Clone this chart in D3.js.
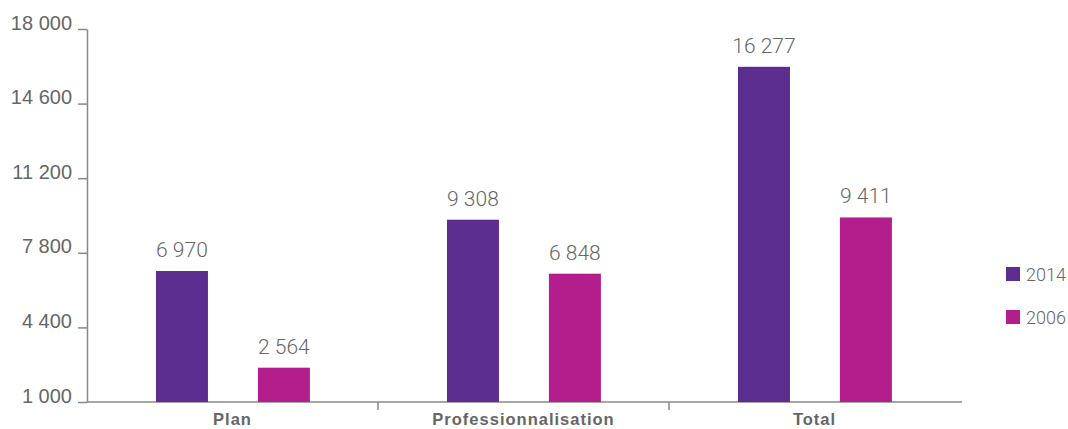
<!DOCTYPE html>
<html><head><meta charset="utf-8">
<script src="https://cdn.jsdelivr.net/npm/d3@7"></script>
<style>
html,body{margin:0;padding:0;background:#fff;}
svg{display:block;font-family:Roboto,"DejaVu Sans",sans-serif;}
</style></head>
<body><svg id="c" width="1068" height="429"></svg>
<script>
const categories = ["Plan", "Professionnalisation", "Total"];
const series = ["2014", "2006"];
const values2014 = [6970, 9308, 16277];
const values2006 = [2564, 6848, 9411];
const yTicks = [1000, 4400, 7800, 11200, 14600, 18000];
const colors = ["#5b2d8e", "#b41e8c"];

(function () {
const svg = d3.select("#c");
const loc = d3.formatLocale({decimal: ",", thousands: " ", grouping: [3], currency: ["", " €"]});
const fmt = loc.format(",d");

const mLeft = 87, mRight = 962, mTop = 29, mBottom = 402;
const x = d3.scaleBand().domain(categories).range([mLeft, mLeft + 873]).padding(0);
const bw = x.bandwidth();
const xs = d3.scaleBand().domain(series).range([bw * 0.237, bw * 0.766]).paddingInner(0.49);
const y = d3.scaleLinear().domain([1000, 18000]).range([mBottom, mTop]);
const color = d3.scaleOrdinal().domain(series).range(colors);

const rows = categories.map((c, i) => ({cat: c, vals: [
  {s: series[0], v: values2014[i]}, {s: series[1], v: values2006[i]}]}));

// y axis
const yAxis = svg.append("g").attr("transform", `translate(${mLeft},0)`)
  .call(d3.axisLeft(y).tickValues(yTicks).tickFormat(fmt).tickSize(9).tickSizeOuter(0));
yAxis.select(".domain").attr("stroke", "#888").attr("stroke-width", 1.5);
yAxis.selectAll(".tick line").attr("stroke", "#888").attr("stroke-width", 1.5);
yAxis.selectAll(".tick text").attr("fill", "#666").attr("font-size", 20).attr("font-weight", 300)
  .attr("x", -15).attr("dy", "0").attr("y", 0);

// x axis
const xAxis = svg.append("g").attr("transform", `translate(0,${mBottom})`)
  .call(d3.axisBottom(x).tickSize(0).tickSizeOuter(0));
xAxis.select(".domain").attr("d", `M${mLeft},0H${mRight}`).attr("stroke", "#888").attr("stroke-width", 1.5);
xAxis.selectAll(".tick text").attr("fill", "#666").attr("font-size", 16.5).attr("font-weight", 700)
  .attr("letter-spacing", 1).attr("y", 23).attr("dy", 0);
xAxis.selectAll(".sep").data(categories.slice(1)).join("line").attr("class", "sep")
  .attr("x1", d => x(d)).attr("x2", d => x(d)).attr("y1", 0).attr("y2", 8)
  .attr("stroke", "#888").attr("stroke-width", 1.5);

// bars
const g = svg.append("g");
const grp = g.selectAll("g.cat").data(rows).join("g").attr("class", "cat")
  .attr("transform", d => `translate(${x(d.cat)},0)`);
grp.selectAll("rect").data(d => d.vals).join("rect")
  .attr("x", d => xs(d.s)).attr("width", xs.bandwidth())
  .attr("y", d => y(d.v)).attr("height", d => y(1000) - y(d.v))
  .attr("fill", d => color(d.s));
grp.selectAll("text").data(d => d.vals).join("text")
  .attr("x", d => xs(d.s) + xs.bandwidth() / 2).attr("y", d => y(d.v) - 14)
  .attr("text-anchor", "middle").attr("fill", "#666").attr("font-size", 21).attr("font-weight", 300)
  .text(d => fmt(d.v));

// legend
const lg = svg.append("g").attr("transform", "translate(1006,267)");
const li = lg.selectAll("g").data(series).join("g").attr("transform", (d, i) => `translate(0,${i * 43})`);
li.append("rect").attr("width", 14).attr("height", 14).attr("fill", d => color(d));
li.append("text").attr("x", 20).attr("y", 14).attr("fill", "#666").attr("font-size", 18).attr("font-weight", 300).text(d => d);
})();
</script></body></html>
